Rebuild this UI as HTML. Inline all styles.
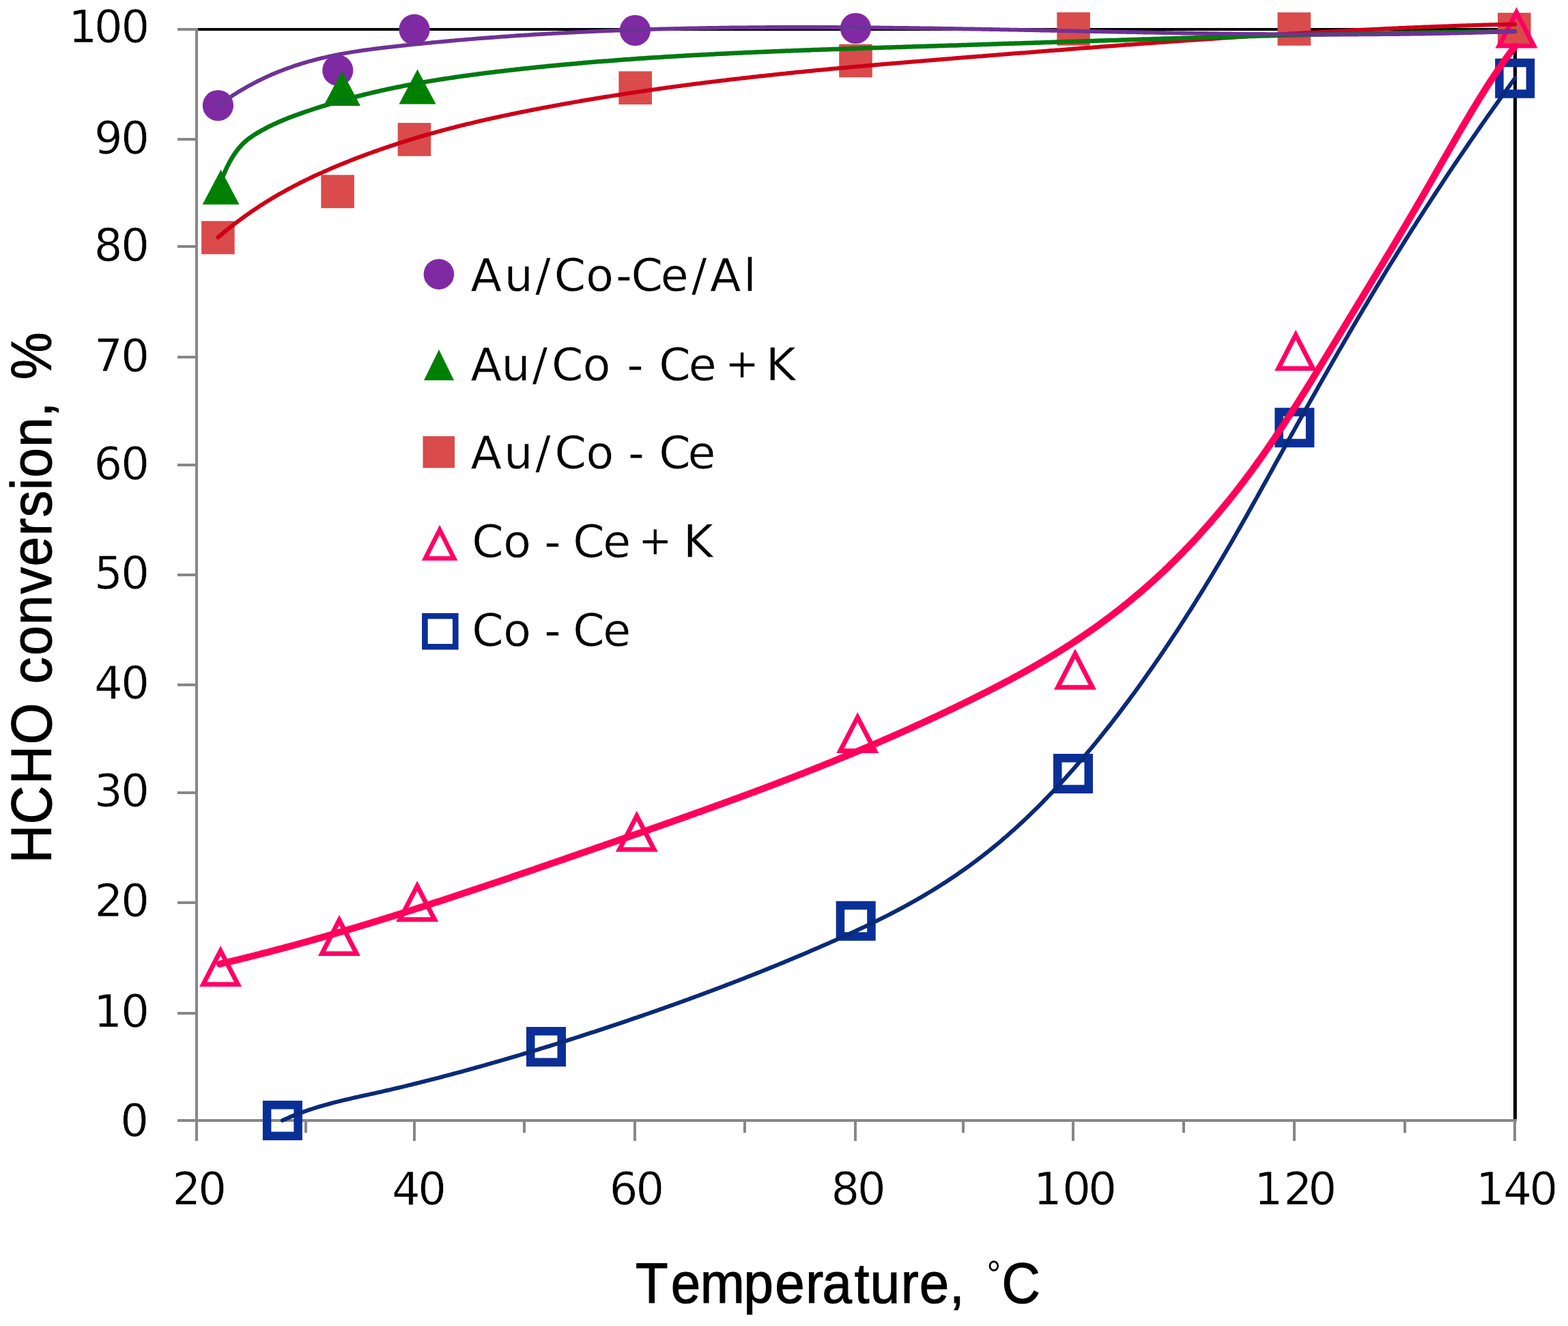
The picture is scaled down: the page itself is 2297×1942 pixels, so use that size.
<!DOCTYPE html>
<html><head><meta charset="utf-8"><title>HCHO conversion vs temperature</title>
<style>
html,body{margin:0;padding:0;background:#fff;overflow:hidden;}
svg{display:block;}
.tk{font-family:"DejaVu Sans","Liberation Sans",sans-serif;font-size:65.5px;fill:#000;stroke:#fff;stroke-width:0.6px;white-space:pre;}
.lg{font-family:"DejaVu Sans","Liberation Sans",sans-serif;font-size:66.5px;fill:#000;stroke:#fff;stroke-width:0.5px;white-space:pre;}
.ti{font-family:"Liberation Sans",Arial,sans-serif;font-size:84px;fill:#000;stroke:#000;stroke-width:1.2px;white-space:pre;}
</style></head><body>
<svg xmlns="http://www.w3.org/2000/svg" width="2297" height="1942" viewBox="0 0 2297 1942">
<rect width="2297" height="1942" fill="#fff"/>
<g id="frame" shape-rendering="crispEdges">
<rect x="288" y="40.60" width="1933.5" height="4.1" fill="#000"/>
<rect x="2217.30" y="40.60" width="4.2" height="1600.3" fill="#000"/>
<rect x="286" y="40.60" width="4" height="1602.4" fill="#878787"/>
<rect x="259.5" y="1639.0" width="1962.0" height="4" fill="#878787"/>
<rect x="259.5" y="40.65" width="28.5" height="4" fill="#878787"/>
<rect x="259.5" y="202.00" width="28.5" height="4" fill="#878787"/>
<rect x="259.5" y="359.30" width="28.5" height="4" fill="#878787"/>
<rect x="259.5" y="520.80" width="28.5" height="4" fill="#878787"/>
<rect x="259.5" y="679.00" width="28.5" height="4" fill="#878787"/>
<rect x="259.5" y="839.50" width="28.5" height="4" fill="#878787"/>
<rect x="259.5" y="1000.50" width="28.5" height="4" fill="#878787"/>
<rect x="259.5" y="1158.50" width="28.5" height="4" fill="#878787"/>
<rect x="259.5" y="1319.60" width="28.5" height="4" fill="#878787"/>
<rect x="259.5" y="1481.70" width="28.5" height="4" fill="#878787"/>
<rect x="259.5" y="1639.00" width="28.5" height="4" fill="#878787"/>
<rect x="286.0" y="1641.0" width="4" height="29.5" fill="#878787"/>
<rect x="445.5" y="1641.0" width="4" height="17.5" fill="#878787"/>
<rect x="604.8" y="1641.0" width="4" height="29.5" fill="#878787"/>
<rect x="766.3" y="1641.0" width="4" height="17.5" fill="#878787"/>
<rect x="928.0" y="1641.0" width="4" height="29.5" fill="#878787"/>
<rect x="1089.4" y="1641.0" width="4" height="17.5" fill="#878787"/>
<rect x="1251.0" y="1641.0" width="4" height="29.5" fill="#878787"/>
<rect x="1408.6" y="1641.0" width="4" height="17.5" fill="#878787"/>
<rect x="1570.2" y="1641.0" width="4" height="29.5" fill="#878787"/>
<rect x="1732.0" y="1641.0" width="4" height="17.5" fill="#878787"/>
<rect x="1894.0" y="1641.0" width="4" height="29.5" fill="#878787"/>
<rect x="2055.8" y="1641.0" width="4" height="17.5" fill="#878787"/>
<rect x="2217.4" y="1641.0" width="4" height="29.5" fill="#878787"/>
</g>
<g class="tk">
<text x="100.5 137.9 177.6" y="62.3">100</text>
<text x="138.0 177.2" y="224.5">90</text>
<text x="137.8 177.2" y="382.1">80</text>
<text x="137.9 177.2" y="543.6">70</text>
<text x="137.5 177.2" y="701.8">60</text>
<text x="138.1 177.2" y="862.3">50</text>
<text x="138.0 177.2" y="1023.3">40</text>
<text x="137.9 177.2" y="1181.3">30</text>
<text x="138.6 177.2" y="1342.4">20</text>
<text x="137.2 177.2" y="1503.5">10</text>
<text x="176.2" y="1663.5">0</text>
<text x="252.6 290.2" y="1763.5">20</text>
<text x="574.0 612.2" y="1763.5">40</text>
<text x="892.7 931.4" y="1763.5">60</text>
<text x="1217.5 1255.9" y="1763.5">80</text>
<text x="1514.1 1556.2 1594.2" y="1763.5">100</text>
<text x="1837.5 1880.6 1916.4" y="1763.5">120</text>
<text x="2162.0 2202.3 2240.4" y="1763.5">140</text>
</g>
<text class="ti" transform="translate(900.0,0) scale(0.93,1)" y="1907.8"><tspan x="33.4 88.9 135.1 203.7 253.1 301.3 327.3 378.2 403.0 451.4 480.4 528.1">Temperature,</tspan><tspan x="574.5 586.5" y="1885.2" font-size="56px" stroke-width="0"> °</tspan><tspan x="610.1" y="1907.8">C</tspan></text>
<text class="ti" transform="translate(74.6,0) rotate(-90) scale(0.93,1)" y="0" x="-1359.4 -1298.1 -1234.9 -1172.3 -1107.0 -1076.9 -1032.4 -984.1 -935.3 -891.9 -843.9 -814.4 -772.1 -752.2 -704.1 -656.8 -633.5 -597.8">HCHO conversion, %</text>
<g id="markers">
<circle cx="319.4" cy="154.5" r="22.6" fill="#7F2AA3"/>
<circle cx="494.8" cy="103" r="22.6" fill="#7F2AA3"/>
<circle cx="607" cy="43.3" r="22.6" fill="#7F2AA3"/>
<circle cx="930.4" cy="44.5" r="22.6" fill="#7F2AA3"/>
<circle cx="1253.5" cy="41.5" r="22.6" fill="#7F2AA3"/>
<polygon points="296.6,299.5 323.6,248.5 350.6,299.5" fill="#008000"/>
<polygon points="474.0,155.0 501.0,104.0 528.0,155.0" fill="#008000"/>
<polygon points="584.5,152.4 611.5,101.4 638.5,152.4" fill="#008000"/>
<rect x="295.1" y="323.7" width="48.6" height="48.6" fill="#DA4B4B"/>
<rect x="470.3" y="256.2" width="48.6" height="48.6" fill="#DA4B4B"/>
<rect x="582.7" y="180.0" width="48.6" height="48.6" fill="#DA4B4B"/>
<rect x="906.4" y="104.4" width="48.6" height="48.6" fill="#DA4B4B"/>
<rect x="1229.2" y="64.7" width="48.6" height="48.6" fill="#DA4B4B"/>
<rect x="1548.3" y="18.1" width="48.6" height="48.6" fill="#DA4B4B"/>
<rect x="1871.5" y="18.2" width="48.6" height="48.6" fill="#DA4B4B"/>
<rect x="2194.0" y="18.7" width="48.6" height="48.6" fill="#DA4B4B"/>
<path d="M323.1,1385.0 L292.1,1445.0 L354.1,1445.0 Z M323.1,1399.8 L342.9,1438.2 L303.3,1438.2 Z" fill="#FF0064" fill-rule="evenodd"/>
<path d="M497.0,1340.1 L466.0,1400.1 L528.0,1400.1 Z M497.0,1354.9 L516.8,1393.3 L477.2,1393.3 Z" fill="#FF0064" fill-rule="evenodd"/>
<path d="M611.2,1290.1 L580.2,1350.1 L642.2,1350.1 Z M611.2,1304.9 L631.0,1343.3 L591.4,1343.3 Z" fill="#FF0064" fill-rule="evenodd"/>
<path d="M932.8,1187.6 L901.8,1247.6 L963.8,1247.6 Z M932.8,1202.4 L952.6,1240.8 L913.0,1240.8 Z" fill="#FF0064" fill-rule="evenodd"/>
<path d="M1256.3,1043.0 L1225.3,1103.0 L1287.3,1103.0 Z M1256.3,1057.8 L1276.1,1096.2 L1236.5,1096.2 Z" fill="#FF0064" fill-rule="evenodd"/>
<path d="M1575.0,950.0 L1544.0,1010.0 L1606.0,1010.0 Z M1575.0,964.8 L1594.8,1003.2 L1555.2,1003.2 Z" fill="#FF0064" fill-rule="evenodd"/>
<path d="M1898.1,483.0 L1867.1,543.0 L1929.1,543.0 Z M1898.1,497.8 L1917.9,536.2 L1878.3,536.2 Z" fill="#FF0064" fill-rule="evenodd"/>
<path d="M2221.5,10.5 L2190.5,70.5 L2252.5,70.5 Z M2221.5,25.3 L2241.3,63.7 L2201.7,63.7 Z" fill="#FF0064" fill-rule="evenodd"/>
<path d="M384.9,1612.0 H442.9 V1670.0 H384.9 Z M397.4,1624.5 V1657.5 H430.4 V1624.5 Z" fill="#0A2F96" fill-rule="evenodd"/>
<path d="M771.0,1504.0 H829.0 V1562.0 H771.0 Z M783.5,1516.5 V1549.5 H816.5 V1516.5 Z" fill="#0A2F96" fill-rule="evenodd"/>
<path d="M1224.7,1319.7 H1282.7 V1377.7 H1224.7 Z M1237.2,1332.2 V1365.2 H1270.2 V1332.2 Z" fill="#0A2F96" fill-rule="evenodd"/>
<path d="M1543.0,1103.9 H1601.0 V1161.9 H1543.0 Z M1555.5,1116.4 V1149.4 H1588.5 V1116.4 Z" fill="#0A2F96" fill-rule="evenodd"/>
<path d="M1867.4,597.3 H1925.4 V655.3 H1867.4 Z M1879.9,609.8 V642.8 H1912.9 V609.8 Z" fill="#0A2F96" fill-rule="evenodd"/>
<path d="M2190.2,85.7 H2248.2 V143.7 H2190.2 Z M2202.7,98.2 V131.2 H2235.7 V98.2 Z" fill="#0A2F96" fill-rule="evenodd"/>
</g>
<g id="lines" fill="none" stroke-linecap="round" stroke-linejoin="round">
<path d="M319.4,347.6 L322.4,345.1 L325.4,342.6 L328.4,340.1 L331.4,337.6 L334.4,335.2 L337.4,332.8 L340.4,330.5 L343.4,328.1 L346.4,325.9 L349.4,323.6 L352.4,321.4 L355.4,319.2 L358.4,317.0 L361.4,314.8 L364.4,312.7 L367.4,310.6 L370.4,308.6 L373.4,306.6 L376.4,304.5 L379.4,302.6 L382.4,300.6 L385.4,298.7 L388.4,296.8 L391.4,294.9 L394.4,293.1 L397.4,291.3 L400.4,289.4 L403.4,287.7 L406.4,285.9 L409.4,284.2 L412.4,282.5 L415.4,280.8 L418.4,279.1 L421.4,277.5 L424.4,275.9 L427.4,274.3 L430.4,272.7 L433.4,271.1 L436.4,269.6 L439.4,268.0 L442.4,266.5 L445.4,265.0 L448.4,263.6 L451.4,262.1 L454.4,260.7 L457.4,259.2 L460.4,257.8 L463.4,256.4 L466.4,255.1 L469.4,253.7 L472.4,252.4 L475.4,251.0 L478.4,249.7 L481.4,248.4 L484.4,247.1 L487.4,245.8 L490.4,244.6 L493.4,243.3 L496.4,242.0 L499.4,240.8 L502.4,239.6 L505.4,238.4 L508.4,237.2 L511.4,236.0 L514.4,234.8 L517.4,233.6 L520.4,232.4 L523.4,231.3 L526.4,230.1 L529.4,229.0 L532.4,227.9 L535.4,226.8 L538.4,225.6 L541.4,224.5 L544.4,223.5 L547.4,222.4 L550.4,221.3 L553.4,220.3 L556.4,219.2 L559.4,218.2 L562.4,217.1 L565.4,216.1 L568.4,215.1 L571.4,214.1 L574.4,213.1 L577.4,212.1 L580.4,211.1 L583.4,210.1 L586.4,209.2 L589.4,208.2 L592.4,207.3 L595.4,206.3 L598.4,205.4 L601.4,204.5 L604.4,203.6 L607.4,202.6 L610.4,201.7 L613.4,200.8 L616.4,200.0 L619.4,199.1 L622.4,198.2 L625.4,197.4 L628.4,196.5 L631.4,195.6 L634.4,194.8 L637.4,194.0 L640.4,193.1 L643.4,192.3 L646.4,191.5 L649.4,190.7 L652.4,189.9 L655.4,189.1 L658.4,188.3 L661.4,187.5 L664.4,186.8 L667.4,186.0 L670.4,185.2 L673.4,184.5 L676.4,183.7 L679.4,183.0 L682.4,182.2 L685.4,181.5 L688.4,180.8 L691.4,180.1 L694.4,179.3 L697.4,178.6 L700.4,177.9 L703.4,177.2 L706.4,176.5 L709.4,175.9 L712.4,175.2 L715.4,174.5 L718.4,173.8 L721.4,173.2 L724.4,172.5 L727.4,171.8 L730.4,171.2 L733.4,170.5 L736.4,169.9 L739.4,169.2 L742.4,168.6 L745.4,168.0 L748.4,167.3 L751.4,166.7 L754.4,166.1 L757.4,165.5 L760.4,164.9 L763.4,164.3 L766.4,163.7 L769.4,163.1 L772.4,162.5 L775.4,161.9 L778.4,161.3 L781.4,160.7 L784.4,160.1 L787.4,159.5 L790.4,159.0 L793.4,158.4 L796.4,157.8 L799.4,157.3 L802.4,156.7 L805.4,156.1 L808.4,155.6 L811.4,155.0 L814.4,154.5 L817.4,153.9 L820.4,153.4 L823.4,152.8 L826.4,152.3 L829.4,151.7 L832.4,151.2 L835.4,150.7 L838.4,150.1 L841.4,149.6 L844.4,149.1 L847.4,148.6 L850.4,148.0 L853.4,147.5 L856.4,147.0 L859.4,146.5 L862.4,146.0 L865.4,145.5 L868.4,145.0 L871.4,144.5 L874.4,144.0 L877.4,143.5 L880.4,143.0 L883.4,142.5 L886.4,142.0 L889.4,141.5 L892.4,141.1 L895.4,140.6 L898.4,140.1 L901.4,139.6 L904.4,139.2 L907.4,138.7 L910.4,138.2 L913.4,137.8 L916.4,137.3 L919.4,136.8 L922.4,136.4 L925.4,135.9 L928.4,135.5 L931.4,135.0 L934.4,134.6 L937.4,134.1 L940.4,133.7 L943.4,133.2 L946.4,132.8 L949.4,132.4 L952.4,131.9 L955.4,131.5 L958.4,131.1 L961.4,130.6 L964.4,130.2 L967.4,129.8 L970.4,129.4 L973.4,129.0 L976.4,128.5 L979.4,128.1 L982.4,127.7 L985.4,127.3 L988.4,126.9 L991.4,126.5 L994.4,126.1 L997.4,125.7 L1000.4,125.3 L1003.4,124.9 L1006.4,124.5 L1009.4,124.1 L1012.4,123.7 L1015.4,123.3 L1018.4,122.9 L1021.4,122.5 L1024.4,122.2 L1027.4,121.8 L1030.4,121.4 L1033.4,121.0 L1036.4,120.6 L1039.4,120.3 L1042.4,119.9 L1045.4,119.5 L1048.4,119.2 L1051.4,118.8 L1054.4,118.4 L1057.4,118.1 L1060.4,117.7 L1063.4,117.4 L1066.4,117.0 L1069.4,116.6 L1072.4,116.3 L1075.4,115.9 L1078.4,115.6 L1081.4,115.2 L1084.4,114.9 L1087.4,114.5 L1090.4,114.2 L1093.4,113.9 L1096.4,113.5 L1099.4,113.2 L1102.4,112.8 L1105.4,112.5 L1108.4,112.2 L1111.4,111.8 L1114.4,111.5 L1117.4,111.2 L1120.4,110.9 L1123.4,110.5 L1126.4,110.2 L1129.4,109.9 L1132.4,109.6 L1135.4,109.2 L1138.4,108.9 L1141.4,108.6 L1144.4,108.3 L1147.4,108.0 L1150.4,107.7 L1153.4,107.3 L1156.4,107.0 L1159.4,106.7 L1162.4,106.4 L1165.4,106.1 L1168.4,105.8 L1171.4,105.5 L1174.4,105.2 L1177.4,104.9 L1180.4,104.6 L1183.4,104.3 L1186.4,104.0 L1189.4,103.7 L1192.4,103.4 L1195.4,103.1 L1198.4,102.8 L1201.4,102.5 L1204.4,102.3 L1207.4,102.0 L1210.4,101.7 L1213.4,101.4 L1216.4,101.1 L1219.4,100.8 L1222.4,100.5 L1225.4,100.3 L1228.4,100.0 L1231.4,99.7 L1234.4,99.4 L1237.4,99.1 L1240.4,98.9 L1243.4,98.6 L1246.4,98.3 L1249.4,98.0 L1252.4,97.8 L1255.4,97.5 L1258.4,97.2 L1261.4,97.0 L1264.4,96.7 L1267.4,96.4 L1270.4,96.1 L1273.4,95.9 L1276.4,95.6 L1279.4,95.4 L1282.4,95.1 L1285.4,94.8 L1288.4,94.6 L1291.4,94.3 L1294.4,94.0 L1297.4,93.8 L1300.4,93.5 L1303.4,93.3 L1306.4,93.0 L1309.4,92.7 L1312.4,92.5 L1315.4,92.2 L1318.4,92.0 L1321.4,91.7 L1324.4,91.5 L1327.4,91.2 L1330.4,91.0 L1333.4,90.7 L1336.4,90.5 L1339.4,90.2 L1342.4,90.0 L1345.4,89.7 L1348.4,89.5 L1351.4,89.2 L1354.4,89.0 L1357.4,88.7 L1360.4,88.5 L1363.4,88.2 L1366.4,88.0 L1369.4,87.7 L1372.4,87.5 L1375.4,87.2 L1378.4,87.0 L1381.4,86.7 L1384.4,86.5 L1387.4,86.3 L1390.4,86.0 L1393.4,85.8 L1396.4,85.5 L1399.4,85.3 L1402.4,85.0 L1405.4,84.8 L1408.4,84.6 L1411.4,84.3 L1414.4,84.1 L1417.4,83.8 L1420.4,83.6 L1423.4,83.4 L1426.4,83.1 L1429.4,82.9 L1432.4,82.6 L1435.4,82.4 L1438.4,82.2 L1441.4,81.9 L1444.4,81.7 L1447.4,81.4 L1450.4,81.2 L1453.4,81.0 L1456.4,80.7 L1459.4,80.5 L1462.4,80.2 L1465.4,80.0 L1468.4,79.8 L1471.4,79.5 L1474.4,79.3 L1477.4,79.1 L1480.4,78.8 L1483.4,78.6 L1486.4,78.3 L1489.4,78.1 L1492.4,77.9 L1495.4,77.6 L1498.4,77.4 L1501.4,77.2 L1504.4,76.9 L1507.4,76.7 L1510.4,76.4 L1513.4,76.2 L1516.4,76.0 L1519.4,75.7 L1522.4,75.5 L1525.4,75.3 L1528.4,75.0 L1531.4,74.8 L1534.4,74.6 L1537.4,74.3 L1540.4,74.1 L1543.4,73.9 L1546.4,73.6 L1549.4,73.4 L1552.4,73.2 L1555.4,72.9 L1558.4,72.7 L1561.4,72.5 L1564.4,72.2 L1567.4,72.0 L1570.4,71.8 L1573.4,71.5 L1576.4,71.3 L1579.4,71.1 L1582.4,70.8 L1585.4,70.6 L1588.4,70.4 L1591.4,70.1 L1594.4,69.9 L1597.4,69.7 L1600.4,69.5 L1603.4,69.2 L1606.4,69.0 L1609.4,68.8 L1612.4,68.5 L1615.4,68.3 L1618.4,68.1 L1621.4,67.9 L1624.4,67.6 L1627.4,67.4 L1630.4,67.2 L1633.4,67.0 L1636.4,66.7 L1639.4,66.5 L1642.4,66.3 L1645.4,66.1 L1648.4,65.8 L1651.4,65.6 L1654.4,65.4 L1657.4,65.2 L1660.4,65.0 L1663.4,64.7 L1666.4,64.5 L1669.4,64.3 L1672.4,64.1 L1675.4,63.8 L1678.4,63.6 L1681.4,63.4 L1684.4,63.2 L1687.4,63.0 L1690.4,62.8 L1693.4,62.5 L1696.4,62.3 L1699.4,62.1 L1702.4,61.9 L1705.4,61.7 L1708.4,61.5 L1711.4,61.2 L1714.4,61.0 L1717.4,60.8 L1720.4,60.6 L1723.4,60.4 L1726.4,60.2 L1729.4,60.0 L1732.4,59.8 L1735.4,59.5 L1738.4,59.3 L1741.4,59.1 L1744.4,58.9 L1747.4,58.7 L1750.4,58.5 L1753.4,58.3 L1756.4,58.1 L1759.4,57.9 L1762.4,57.7 L1765.4,57.5 L1768.4,57.3 L1771.4,57.1 L1774.4,56.9 L1777.4,56.7 L1780.4,56.5 L1783.4,56.2 L1786.4,56.0 L1789.4,55.8 L1792.4,55.6 L1795.4,55.4 L1798.4,55.2 L1801.4,55.1 L1804.4,54.9 L1807.4,54.7 L1810.4,54.5 L1813.4,54.3 L1816.4,54.1 L1819.4,53.9 L1822.4,53.7 L1825.4,53.5 L1828.4,53.3 L1831.4,53.1 L1834.4,52.9 L1837.4,52.7 L1840.4,52.5 L1843.4,52.3 L1846.4,52.2 L1849.4,52.0 L1852.4,51.8 L1855.4,51.6 L1858.4,51.4 L1861.4,51.2 L1864.4,51.0 L1867.4,50.9 L1870.4,50.7 L1873.4,50.5 L1876.4,50.3 L1879.4,50.1 L1882.4,49.9 L1885.4,49.8 L1888.4,49.6 L1891.4,49.4 L1894.4,49.2 L1897.4,49.1 L1900.4,48.9 L1903.4,48.7 L1906.4,48.5 L1909.4,48.4 L1912.4,48.2 L1915.4,48.0 L1918.4,47.8 L1921.4,47.7 L1924.4,47.5 L1927.4,47.3 L1930.4,47.2 L1933.4,47.0 L1936.4,46.8 L1939.4,46.7 L1942.4,46.5 L1945.4,46.3 L1948.4,46.2 L1951.4,46.0 L1954.4,45.8 L1957.4,45.7 L1960.4,45.5 L1963.4,45.4 L1966.4,45.2 L1969.4,45.1 L1972.4,44.9 L1975.4,44.7 L1978.4,44.6 L1981.4,44.4 L1984.4,44.3 L1987.4,44.1 L1990.4,44.0 L1993.4,43.8 L1996.4,43.7 L1999.4,43.5 L2002.4,43.4 L2005.4,43.2 L2008.4,43.1 L2011.4,42.9 L2014.4,42.8 L2017.4,42.7 L2020.4,42.5 L2023.4,42.4 L2026.4,42.2 L2029.4,42.1 L2032.4,42.0 L2035.4,41.8 L2038.4,41.7 L2041.4,41.5 L2044.4,41.4 L2047.4,41.3 L2050.4,41.1 L2053.4,41.0 L2056.4,40.9 L2059.4,40.8 L2062.4,40.6 L2065.4,40.5 L2068.4,40.4 L2071.4,40.2 L2074.4,40.1 L2077.4,40.0 L2080.4,39.9 L2083.4,39.8 L2086.4,39.6 L2089.4,39.5 L2092.4,39.4 L2095.4,39.3 L2098.4,39.2 L2101.4,39.0 L2104.4,38.9 L2107.4,38.8 L2110.4,38.7 L2113.4,38.6 L2116.4,38.5 L2119.4,38.4 L2122.4,38.3 L2125.4,38.2 L2128.4,38.1 L2131.4,38.0 L2134.4,37.8 L2137.4,37.7 L2140.4,37.6 L2143.4,37.5 L2146.4,37.4 L2149.4,37.3 L2152.4,37.2 L2155.4,37.2 L2158.4,37.1 L2161.4,37.0 L2164.4,36.9 L2167.4,36.8 L2170.4,36.7 L2173.4,36.6 L2176.4,36.5 L2179.4,36.4 L2182.4,36.3 L2185.4,36.3 L2188.4,36.2 L2191.4,36.1 L2194.4,36.0 L2197.4,35.9 L2200.4,35.9 L2203.4,35.8 L2206.4,35.7 L2209.4,35.6 L2212.4,35.6 L2215.4,35.5 L2218.4,35.4 L2219.0,35.4" stroke="#CC0018" stroke-width="6"/>
<path d="M323.6,265.8 L326.6,258.1 L329.6,251.1 L332.6,244.6 L335.6,238.7 L338.6,233.3 L341.6,228.4 L344.6,223.9 L347.6,219.8 L350.6,216.1 L353.6,212.8 L356.6,209.7 L359.6,207.0 L362.6,204.5 L365.6,202.2 L368.6,200.1 L371.6,198.1 L374.6,196.2 L377.6,194.4 L380.6,192.6 L383.6,190.9 L386.6,189.3 L389.6,187.7 L392.6,186.1 L395.6,184.6 L398.6,183.2 L401.6,181.7 L404.6,180.4 L407.6,179.0 L410.6,177.7 L413.6,176.4 L416.6,175.2 L419.6,174.0 L422.6,172.8 L425.6,171.6 L428.6,170.5 L431.6,169.4 L434.6,168.3 L437.6,167.2 L440.6,166.1 L443.6,165.1 L446.6,164.0 L449.6,163.0 L452.6,162.0 L455.6,161.0 L458.6,160.0 L461.6,159.0 L464.6,158.0 L467.6,157.1 L470.6,156.1 L473.6,155.2 L476.6,154.3 L479.6,153.4 L482.6,152.5 L485.6,151.6 L488.6,150.7 L491.6,149.8 L494.6,148.9 L497.6,148.1 L500.6,147.2 L503.6,146.4 L506.6,145.6 L509.6,144.7 L512.6,143.9 L515.6,143.1 L518.6,142.4 L521.6,141.6 L524.6,140.8 L527.6,140.0 L530.6,139.3 L533.6,138.5 L536.6,137.8 L539.6,137.1 L542.6,136.4 L545.6,135.7 L548.6,135.0 L551.6,134.3 L554.6,133.6 L557.6,132.9 L560.6,132.2 L563.6,131.6 L566.6,130.9 L569.6,130.3 L572.6,129.6 L575.6,129.0 L578.6,128.4 L581.6,127.8 L584.6,127.2 L587.6,126.6 L590.6,126.0 L593.6,125.4 L596.6,124.8 L599.6,124.2 L602.6,123.7 L605.6,123.1 L608.6,122.6 L611.6,122.0 L614.6,121.5 L617.6,121.0 L620.6,120.4 L623.6,119.9 L626.6,119.4 L629.6,118.9 L632.6,118.4 L635.6,117.9 L638.6,117.4 L641.6,116.9 L644.6,116.4 L647.6,116.0 L650.6,115.5 L653.6,115.0 L656.6,114.6 L659.6,114.1 L662.6,113.7 L665.6,113.2 L668.6,112.8 L671.6,112.4 L674.6,111.9 L677.6,111.5 L680.6,111.1 L683.6,110.7 L686.6,110.3 L689.6,109.9 L692.6,109.5 L695.6,109.1 L698.6,108.7 L701.6,108.3 L704.6,107.9 L707.6,107.5 L710.6,107.1 L713.6,106.8 L716.6,106.4 L719.6,106.0 L722.6,105.7 L725.6,105.3 L728.6,104.9 L731.6,104.6 L734.6,104.2 L737.6,103.9 L740.6,103.5 L743.6,103.2 L746.6,102.8 L749.6,102.5 L752.6,102.2 L755.6,101.8 L758.6,101.5 L761.6,101.2 L764.6,100.8 L767.6,100.5 L770.6,100.2 L773.6,99.9 L776.6,99.6 L779.6,99.2 L782.6,98.9 L785.6,98.6 L788.6,98.3 L791.6,98.0 L794.6,97.7 L797.6,97.4 L800.6,97.1 L803.6,96.8 L806.6,96.5 L809.6,96.2 L812.6,95.9 L815.6,95.6 L818.6,95.4 L821.6,95.1 L824.6,94.8 L827.6,94.5 L830.6,94.2 L833.6,94.0 L836.6,93.7 L839.6,93.4 L842.6,93.2 L845.6,92.9 L848.6,92.6 L851.6,92.4 L854.6,92.1 L857.6,91.8 L860.6,91.6 L863.6,91.3 L866.6,91.1 L869.6,90.8 L872.6,90.6 L875.6,90.3 L878.6,90.1 L881.6,89.9 L884.6,89.6 L887.6,89.4 L890.6,89.2 L893.6,88.9 L896.6,88.7 L899.6,88.5 L902.6,88.2 L905.6,88.0 L908.6,87.8 L911.6,87.6 L914.6,87.3 L917.6,87.1 L920.6,86.9 L923.6,86.7 L926.6,86.5 L929.6,86.3 L932.6,86.1 L935.6,85.8 L938.6,85.6 L941.6,85.4 L944.6,85.2 L947.6,85.0 L950.6,84.8 L953.6,84.6 L956.6,84.4 L959.6,84.2 L962.6,84.1 L965.6,83.9 L968.6,83.7 L971.6,83.5 L974.6,83.3 L977.6,83.1 L980.6,82.9 L983.6,82.7 L986.6,82.6 L989.6,82.4 L992.6,82.2 L995.6,82.0 L998.6,81.9 L1001.6,81.7 L1004.6,81.5 L1007.6,81.3 L1010.6,81.2 L1013.6,81.0 L1016.6,80.8 L1019.6,80.7 L1022.6,80.5 L1025.6,80.4 L1028.6,80.2 L1031.6,80.0 L1034.6,79.9 L1037.6,79.7 L1040.6,79.6 L1043.6,79.4 L1046.6,79.3 L1049.6,79.1 L1052.6,79.0 L1055.6,78.8 L1058.6,78.7 L1061.6,78.5 L1064.6,78.4 L1067.6,78.2 L1070.6,78.1 L1073.6,77.9 L1076.6,77.8 L1079.6,77.7 L1082.6,77.5 L1085.6,77.4 L1088.6,77.2 L1091.6,77.1 L1094.6,77.0 L1097.6,76.8 L1100.6,76.7 L1103.6,76.6 L1106.6,76.4 L1109.6,76.3 L1112.6,76.2 L1115.6,76.1 L1118.6,75.9 L1121.6,75.8 L1124.6,75.7 L1127.6,75.6 L1130.6,75.4 L1133.6,75.3 L1136.6,75.2 L1139.6,75.1 L1142.6,74.9 L1145.6,74.8 L1148.6,74.7 L1151.6,74.6 L1154.6,74.5 L1157.6,74.4 L1160.6,74.2 L1163.6,74.1 L1166.6,74.0 L1169.6,73.9 L1172.6,73.8 L1175.6,73.7 L1178.6,73.6 L1181.6,73.5 L1184.6,73.4 L1187.6,73.2 L1190.6,73.1 L1193.6,73.0 L1196.6,72.9 L1199.6,72.8 L1202.6,72.7 L1205.6,72.6 L1208.6,72.5 L1211.6,72.4 L1214.6,72.3 L1217.6,72.2 L1220.6,72.1 L1223.6,72.0 L1226.6,71.9 L1229.6,71.8 L1232.6,71.7 L1235.6,71.6 L1238.6,71.5 L1241.6,71.4 L1244.6,71.3 L1247.6,71.2 L1250.6,71.1 L1253.6,71.0 L1256.6,70.9 L1259.6,70.8 L1262.6,70.7 L1265.6,70.6 L1268.6,70.5 L1271.6,70.4 L1274.6,70.3 L1277.6,70.2 L1280.6,70.1 L1283.6,70.0 L1286.6,69.9 L1289.6,69.8 L1292.6,69.7 L1295.6,69.6 L1298.6,69.5 L1301.6,69.5 L1304.6,69.4 L1307.6,69.3 L1310.6,69.2 L1313.6,69.1 L1316.6,69.0 L1319.6,68.9 L1322.6,68.8 L1325.6,68.7 L1328.6,68.6 L1331.6,68.5 L1334.6,68.4 L1337.6,68.3 L1340.6,68.2 L1343.6,68.1 L1346.6,68.1 L1349.6,68.0 L1352.6,67.9 L1355.6,67.8 L1358.6,67.7 L1361.6,67.6 L1364.6,67.5 L1367.6,67.4 L1370.6,67.3 L1373.6,67.2 L1376.6,67.1 L1379.6,67.0 L1382.6,66.9 L1385.6,66.8 L1388.6,66.7 L1391.6,66.6 L1394.6,66.5 L1397.6,66.4 L1400.6,66.4 L1403.6,66.3 L1406.6,66.2 L1409.6,66.1 L1412.6,66.0 L1415.6,65.9 L1418.6,65.8 L1421.6,65.7 L1424.6,65.6 L1427.6,65.5 L1430.6,65.4 L1433.6,65.3 L1436.6,65.2 L1439.6,65.1 L1442.6,65.0 L1445.6,64.9 L1448.6,64.8 L1451.6,64.7 L1454.6,64.6 L1457.6,64.5 L1460.6,64.4 L1463.6,64.3 L1466.6,64.2 L1469.6,64.1 L1472.6,64.0 L1475.6,63.9 L1478.6,63.8 L1481.6,63.8 L1484.6,63.7 L1487.6,63.6 L1490.6,63.5 L1493.6,63.4 L1496.6,63.3 L1499.6,63.2 L1502.6,63.1 L1505.6,63.0 L1508.6,62.9 L1511.6,62.8 L1514.6,62.7 L1517.6,62.6 L1520.6,62.5 L1523.6,62.4 L1526.6,62.3 L1529.6,62.2 L1532.6,62.1 L1535.6,62.0 L1538.6,61.9 L1541.6,61.8 L1544.6,61.7 L1547.6,61.6 L1550.6,61.5 L1553.6,61.4 L1556.6,61.3 L1559.6,61.2 L1562.6,61.1 L1565.6,61.0 L1568.6,61.0 L1571.6,60.9 L1574.6,60.8 L1577.6,60.7 L1580.6,60.6 L1583.6,60.5 L1586.6,60.4 L1589.6,60.3 L1592.6,60.2 L1595.6,60.1 L1598.6,60.0 L1601.6,59.9 L1604.6,59.8 L1607.6,59.7 L1610.6,59.6 L1613.6,59.5 L1616.6,59.4 L1619.6,59.3 L1622.6,59.2 L1625.6,59.1 L1628.6,59.0 L1631.6,59.0 L1634.6,58.9 L1637.6,58.8 L1640.6,58.7 L1643.6,58.6 L1646.6,58.5 L1649.6,58.4 L1652.6,58.3 L1655.6,58.2 L1658.6,58.1 L1661.6,58.0 L1664.6,57.9 L1667.6,57.8 L1670.6,57.7 L1673.6,57.6 L1676.6,57.6 L1679.6,57.5 L1682.6,57.4 L1685.6,57.3 L1688.6,57.2 L1691.6,57.1 L1694.6,57.0 L1697.6,56.9 L1700.6,56.8 L1703.6,56.7 L1706.6,56.6 L1709.6,56.6 L1712.6,56.5 L1715.6,56.4 L1718.6,56.3 L1721.6,56.2 L1724.6,56.1 L1727.6,56.0 L1730.6,55.9 L1733.6,55.8 L1736.6,55.7 L1739.6,55.7 L1742.6,55.6 L1745.6,55.5 L1748.6,55.4 L1751.6,55.3 L1754.6,55.2 L1757.6,55.1 L1760.6,55.0 L1763.6,55.0 L1766.6,54.9 L1769.6,54.8 L1772.6,54.7 L1775.6,54.6 L1778.6,54.5 L1781.6,54.4 L1784.6,54.4 L1787.6,54.3 L1790.6,54.2 L1793.6,54.1 L1796.6,54.0 L1799.6,53.9 L1802.6,53.9 L1805.6,53.8 L1808.6,53.7 L1811.6,53.6 L1814.6,53.5 L1817.6,53.4 L1820.6,53.4 L1823.6,53.3 L1826.6,53.2 L1829.6,53.1 L1832.6,53.0 L1835.6,53.0 L1838.6,52.9 L1841.6,52.8 L1844.6,52.7 L1847.6,52.6 L1850.6,52.6 L1853.6,52.5 L1856.6,52.4 L1859.6,52.3 L1862.6,52.2 L1865.6,52.2 L1868.6,52.1 L1871.6,52.0 L1874.6,51.9 L1877.6,51.9 L1880.6,51.8 L1883.6,51.7 L1886.6,51.6 L1889.6,51.6 L1892.6,51.5 L1895.6,51.4 L1898.6,51.3 L1901.6,51.3 L1904.6,51.2 L1907.6,51.1 L1910.6,51.0 L1913.6,51.0 L1916.6,50.9 L1919.6,50.8 L1922.6,50.8 L1925.6,50.7 L1928.6,50.6 L1931.6,50.6 L1934.6,50.5 L1937.6,50.4 L1940.6,50.3 L1943.6,50.3 L1946.6,50.2 L1949.6,50.1 L1952.6,50.1 L1955.6,50.0 L1958.6,49.9 L1961.6,49.9 L1964.6,49.8 L1967.6,49.7 L1970.6,49.7 L1973.6,49.6 L1976.6,49.6 L1979.6,49.5 L1982.6,49.4 L1985.6,49.4 L1988.6,49.3 L1991.6,49.2 L1994.6,49.2 L1997.6,49.1 L2000.6,49.1 L2003.6,49.0 L2006.6,48.9 L2009.6,48.9 L2012.6,48.8 L2015.6,48.8 L2018.6,48.7 L2021.6,48.6 L2024.6,48.6 L2027.6,48.5 L2030.6,48.5 L2033.6,48.4 L2036.6,48.4 L2039.6,48.3 L2042.6,48.3 L2045.6,48.2 L2048.6,48.2 L2051.6,48.1 L2054.6,48.1 L2057.6,48.0 L2060.6,47.9 L2063.6,47.9 L2066.6,47.8 L2069.6,47.8 L2072.6,47.8 L2075.6,47.7 L2078.6,47.7 L2081.6,47.6 L2084.6,47.6 L2087.6,47.5 L2090.6,47.5 L2093.6,47.4 L2096.6,47.4 L2099.6,47.3 L2102.6,47.3 L2105.6,47.2 L2108.6,47.2 L2111.6,47.2 L2114.6,47.1 L2117.6,47.1 L2120.6,47.0 L2123.6,47.0 L2126.6,47.0 L2129.6,46.9 L2132.6,46.9 L2135.6,46.8 L2138.6,46.8 L2141.6,46.8 L2144.6,46.7 L2147.6,46.7 L2150.6,46.7 L2153.6,46.6 L2156.6,46.6 L2159.6,46.6 L2162.6,46.5 L2165.6,46.5 L2168.6,46.5 L2171.6,46.4 L2174.6,46.4 L2177.6,46.4 L2180.6,46.3 L2183.6,46.3 L2186.6,46.3 L2189.6,46.3 L2192.6,46.2 L2195.6,46.2 L2198.6,46.2 L2201.6,46.2 L2204.6,46.1 L2207.6,46.1 L2210.6,46.1 L2213.6,46.1 L2216.6,46.0 L2219.0,46.0" stroke="#007A10" stroke-width="6.5"/>
<path d="M319.4,154.7 L322.4,152.5 L325.4,150.4 L328.4,148.2 L331.4,146.2 L334.4,144.1 L337.4,142.1 L340.4,140.2 L343.4,138.2 L346.4,136.4 L349.4,134.5 L352.4,132.7 L355.4,130.9 L358.4,129.2 L361.4,127.5 L364.4,125.8 L367.4,124.2 L370.4,122.6 L373.4,121.0 L376.4,119.4 L379.4,117.9 L382.4,116.5 L385.4,115.0 L388.4,113.6 L391.4,112.2 L394.4,110.9 L397.4,109.5 L400.4,108.2 L403.4,107.0 L406.4,105.7 L409.4,104.5 L412.4,103.4 L415.4,102.2 L418.4,101.1 L421.4,100.0 L424.4,98.9 L427.4,97.9 L430.4,96.8 L433.4,95.8 L436.4,94.9 L439.4,93.9 L442.4,93.0 L445.4,92.1 L448.4,91.2 L451.4,90.3 L454.4,89.5 L457.4,88.7 L460.4,87.9 L463.4,87.1 L466.4,86.3 L469.4,85.6 L472.4,84.9 L475.4,84.2 L478.4,83.5 L481.4,82.8 L484.4,82.2 L487.4,81.5 L490.4,80.9 L493.4,80.3 L496.4,79.7 L499.4,79.1 L502.4,78.6 L505.4,78.0 L508.4,77.5 L511.4,77.0 L514.4,76.5 L517.4,76.0 L520.4,75.5 L523.4,75.1 L526.4,74.6 L529.4,74.2 L532.4,73.7 L535.4,73.3 L538.4,72.9 L541.4,72.5 L544.4,72.1 L547.4,71.7 L550.4,71.3 L553.4,70.9 L556.4,70.6 L559.4,70.2 L562.4,69.8 L565.4,69.5 L568.4,69.1 L571.4,68.8 L574.4,68.5 L577.4,68.1 L580.4,67.8 L583.4,67.5 L586.4,67.1 L589.4,66.8 L592.4,66.5 L595.4,66.2 L598.4,65.9 L601.4,65.5 L604.4,65.2 L607.4,64.9 L610.4,64.6 L613.4,64.3 L616.4,64.0 L619.4,63.7 L622.4,63.4 L625.4,63.1 L628.4,62.8 L631.4,62.5 L634.4,62.2 L637.4,61.9 L640.4,61.7 L643.4,61.4 L646.4,61.1 L649.4,60.8 L652.4,60.5 L655.4,60.3 L658.4,60.0 L661.4,59.7 L664.4,59.5 L667.4,59.2 L670.4,58.9 L673.4,58.7 L676.4,58.4 L679.4,58.2 L682.4,57.9 L685.4,57.7 L688.4,57.4 L691.4,57.2 L694.4,56.9 L697.4,56.7 L700.4,56.4 L703.4,56.2 L706.4,56.0 L709.4,55.7 L712.4,55.5 L715.4,55.3 L718.4,55.0 L721.4,54.8 L724.4,54.6 L727.4,54.4 L730.4,54.1 L733.4,53.9 L736.4,53.7 L739.4,53.5 L742.4,53.3 L745.4,53.1 L748.4,52.9 L751.4,52.7 L754.4,52.4 L757.4,52.2 L760.4,52.0 L763.4,51.8 L766.4,51.7 L769.4,51.5 L772.4,51.3 L775.4,51.1 L778.4,50.9 L781.4,50.7 L784.4,50.5 L787.4,50.3 L790.4,50.1 L793.4,50.0 L796.4,49.8 L799.4,49.6 L802.4,49.4 L805.4,49.3 L808.4,49.1 L811.4,48.9 L814.4,48.8 L817.4,48.6 L820.4,48.4 L823.4,48.3 L826.4,48.1 L829.4,48.0 L832.4,47.8 L835.4,47.6 L838.4,47.5 L841.4,47.3 L844.4,47.2 L847.4,47.1 L850.4,46.9 L853.4,46.8 L856.4,46.6 L859.4,46.5 L862.4,46.3 L865.4,46.2 L868.4,46.1 L871.4,45.9 L874.4,45.8 L877.4,45.7 L880.4,45.5 L883.4,45.4 L886.4,45.3 L889.4,45.2 L892.4,45.1 L895.4,44.9 L898.4,44.8 L901.4,44.7 L904.4,44.6 L907.4,44.5 L910.4,44.4 L913.4,44.2 L916.4,44.1 L919.4,44.0 L922.4,43.9 L925.4,43.8 L928.4,43.7 L931.4,43.6 L934.4,43.5 L937.4,43.4 L940.4,43.3 L943.4,43.2 L946.4,43.1 L949.4,43.0 L952.4,43.0 L955.4,42.9 L958.4,42.8 L961.4,42.7 L964.4,42.6 L967.4,42.5 L970.4,42.4 L973.4,42.4 L976.4,42.3 L979.4,42.2 L982.4,42.1 L985.4,42.1 L988.4,42.0 L991.4,41.9 L994.4,41.8 L997.4,41.8 L1000.4,41.7 L1003.4,41.6 L1006.4,41.6 L1009.4,41.5 L1012.4,41.5 L1015.4,41.4 L1018.4,41.3 L1021.4,41.3 L1024.4,41.2 L1027.4,41.2 L1030.4,41.1 L1033.4,41.1 L1036.4,41.0 L1039.4,41.0 L1042.4,40.9 L1045.4,40.9 L1048.4,40.8 L1051.4,40.8 L1054.4,40.7 L1057.4,40.7 L1060.4,40.6 L1063.4,40.6 L1066.4,40.6 L1069.4,40.5 L1072.4,40.5 L1075.4,40.4 L1078.4,40.4 L1081.4,40.4 L1084.4,40.3 L1087.4,40.3 L1090.4,40.3 L1093.4,40.3 L1096.4,40.2 L1099.4,40.2 L1102.4,40.2 L1105.4,40.2 L1108.4,40.1 L1111.4,40.1 L1114.4,40.1 L1117.4,40.1 L1120.4,40.1 L1123.4,40.0 L1126.4,40.0 L1129.4,40.0 L1132.4,40.0 L1135.4,40.0 L1138.4,40.0 L1141.4,40.0 L1144.4,39.9 L1147.4,39.9 L1150.4,39.9 L1153.4,39.9 L1156.4,39.9 L1159.4,39.9 L1162.4,39.9 L1165.4,39.9 L1168.4,39.9 L1171.4,39.9 L1174.4,39.9 L1177.4,39.9 L1180.4,39.9 L1183.4,39.9 L1186.4,39.9 L1189.4,39.9 L1192.4,39.9 L1195.4,39.9 L1198.4,39.9 L1201.4,39.9 L1204.4,39.9 L1207.4,40.0 L1210.4,40.0 L1213.4,40.0 L1216.4,40.0 L1219.4,40.0 L1222.4,40.0 L1225.4,40.0 L1228.4,40.1 L1231.4,40.1 L1234.4,40.1 L1237.4,40.1 L1240.4,40.1 L1243.4,40.1 L1246.4,40.2 L1249.4,40.2 L1252.4,40.2 L1255.4,40.2 L1258.4,40.3 L1261.4,40.3 L1264.4,40.3 L1267.4,40.3 L1270.4,40.4 L1273.4,40.4 L1276.4,40.4 L1279.4,40.4 L1282.4,40.5 L1285.4,40.5 L1288.4,40.5 L1291.4,40.6 L1294.4,40.6 L1297.4,40.6 L1300.4,40.7 L1303.4,40.7 L1306.4,40.7 L1309.4,40.8 L1312.4,40.8 L1315.4,40.8 L1318.4,40.9 L1321.4,40.9 L1324.4,40.9 L1327.4,41.0 L1330.4,41.0 L1333.4,41.1 L1336.4,41.1 L1339.4,41.1 L1342.4,41.2 L1345.4,41.2 L1348.4,41.3 L1351.4,41.3 L1354.4,41.4 L1357.4,41.4 L1360.4,41.4 L1363.4,41.5 L1366.4,41.5 L1369.4,41.6 L1372.4,41.6 L1375.4,41.7 L1378.4,41.7 L1381.4,41.8 L1384.4,41.8 L1387.4,41.9 L1390.4,41.9 L1393.4,42.0 L1396.4,42.0 L1399.4,42.1 L1402.4,42.1 L1405.4,42.2 L1408.4,42.2 L1411.4,42.3 L1414.4,42.3 L1417.4,42.4 L1420.4,42.4 L1423.4,42.5 L1426.4,42.5 L1429.4,42.6 L1432.4,42.6 L1435.4,42.7 L1438.4,42.8 L1441.4,42.8 L1444.4,42.9 L1447.4,42.9 L1450.4,43.0 L1453.4,43.0 L1456.4,43.1 L1459.4,43.1 L1462.4,43.2 L1465.4,43.3 L1468.4,43.3 L1471.4,43.4 L1474.4,43.4 L1477.4,43.5 L1480.4,43.6 L1483.4,43.6 L1486.4,43.7 L1489.4,43.7 L1492.4,43.8 L1495.4,43.8 L1498.4,43.9 L1501.4,44.0 L1504.4,44.0 L1507.4,44.1 L1510.4,44.1 L1513.4,44.2 L1516.4,44.3 L1519.4,44.3 L1522.4,44.4 L1525.4,44.5 L1528.4,44.5 L1531.4,44.6 L1534.4,44.6 L1537.4,44.7 L1540.4,44.8 L1543.4,44.8 L1546.4,44.9 L1549.4,44.9 L1552.4,45.0 L1555.4,45.1 L1558.4,45.1 L1561.4,45.2 L1564.4,45.2 L1567.4,45.3 L1570.4,45.4 L1573.4,45.4 L1576.4,45.5 L1579.4,45.6 L1582.4,45.6 L1585.4,45.7 L1588.4,45.7 L1591.4,45.8 L1594.4,45.9 L1597.4,45.9 L1600.4,46.0 L1603.4,46.0 L1606.4,46.1 L1609.4,46.2 L1612.4,46.2 L1615.4,46.3 L1618.4,46.3 L1621.4,46.4 L1624.4,46.5 L1627.4,46.5 L1630.4,46.6 L1633.4,46.6 L1636.4,46.7 L1639.4,46.8 L1642.4,46.8 L1645.4,46.9 L1648.4,46.9 L1651.4,47.0 L1654.4,47.1 L1657.4,47.1 L1660.4,47.2 L1663.4,47.2 L1666.4,47.3 L1669.4,47.3 L1672.4,47.4 L1675.4,47.5 L1678.4,47.5 L1681.4,47.6 L1684.4,47.6 L1687.4,47.7 L1690.4,47.7 L1693.4,47.8 L1696.4,47.8 L1699.4,47.9 L1702.4,48.0 L1705.4,48.0 L1708.4,48.1 L1711.4,48.1 L1714.4,48.2 L1717.4,48.2 L1720.4,48.3 L1723.4,48.3 L1726.4,48.4 L1729.4,48.4 L1732.4,48.5 L1735.4,48.5 L1738.4,48.6 L1741.4,48.6 L1744.4,48.7 L1747.4,48.7 L1750.4,48.8 L1753.4,48.8 L1756.4,48.9 L1759.4,48.9 L1762.4,48.9 L1765.4,49.0 L1768.4,49.0 L1771.4,49.1 L1774.4,49.1 L1777.4,49.2 L1780.4,49.2 L1783.4,49.2 L1786.4,49.3 L1789.4,49.3 L1792.4,49.4 L1795.4,49.4 L1798.4,49.4 L1801.4,49.5 L1804.4,49.5 L1807.4,49.6 L1810.4,49.6 L1813.4,49.6 L1816.4,49.7 L1819.4,49.7 L1822.4,49.7 L1825.4,49.8 L1828.4,49.8 L1831.4,49.8 L1834.4,49.9 L1837.4,49.9 L1840.4,49.9 L1843.4,50.0 L1846.4,50.0 L1849.4,50.0 L1852.4,50.0 L1855.4,50.1 L1858.4,50.1 L1861.4,50.1 L1864.4,50.2 L1867.4,50.2 L1870.4,50.2 L1873.4,50.2 L1876.4,50.2 L1879.4,50.3 L1882.4,50.3 L1885.4,50.3 L1888.4,50.3 L1891.4,50.3 L1894.4,50.4 L1897.4,50.4 L1900.4,50.4 L1903.4,50.4 L1906.4,50.4 L1909.4,50.4 L1912.4,50.4 L1915.4,50.5 L1918.4,50.5 L1921.4,50.5 L1924.4,50.5 L1927.4,50.5 L1930.4,50.5 L1933.4,50.5 L1936.4,50.5 L1939.4,50.5 L1942.4,50.5 L1945.4,50.5 L1948.4,50.5 L1951.4,50.5 L1954.4,50.5 L1957.4,50.5 L1960.4,50.5 L1963.4,50.5 L1966.4,50.5 L1969.4,50.5 L1972.4,50.5 L1975.4,50.5 L1978.4,50.5 L1981.4,50.5 L1984.4,50.5 L1987.4,50.5 L1990.4,50.4 L1993.4,50.4 L1996.4,50.4 L1999.4,50.4 L2002.4,50.4 L2005.4,50.4 L2008.4,50.3 L2011.4,50.3 L2014.4,50.3 L2017.4,50.3 L2020.4,50.3 L2023.4,50.2 L2026.4,50.2 L2029.4,50.2 L2032.4,50.2 L2035.4,50.1 L2038.4,50.1 L2041.4,50.1 L2044.4,50.0 L2047.4,50.0 L2050.4,50.0 L2053.4,49.9 L2056.4,49.9 L2059.4,49.9 L2062.4,49.8 L2065.4,49.8 L2068.4,49.7 L2071.4,49.7 L2074.4,49.7 L2077.4,49.6 L2080.4,49.6 L2083.4,49.5 L2086.4,49.5 L2089.4,49.4 L2092.4,49.4 L2095.4,49.3 L2098.4,49.3 L2101.4,49.2 L2104.4,49.1 L2107.4,49.1 L2110.4,49.0 L2113.4,49.0 L2116.4,48.9 L2119.4,48.8 L2122.4,48.8 L2125.4,48.7 L2128.4,48.6 L2131.4,48.6 L2134.4,48.5 L2137.4,48.4 L2140.4,48.4 L2143.4,48.3 L2146.4,48.2 L2149.4,48.1 L2152.4,48.0 L2155.4,48.0 L2158.4,47.9 L2161.4,47.8 L2164.4,47.7 L2167.4,47.6 L2170.4,47.5 L2173.4,47.5 L2176.4,47.4 L2179.4,47.3 L2182.4,47.2 L2185.4,47.1 L2188.4,47.0 L2191.4,46.9 L2194.4,46.8 L2197.4,46.7 L2200.4,46.6 L2203.4,46.5 L2206.4,46.4 L2209.4,46.3 L2212.4,46.2 L2215.4,46.0 L2218.4,45.9 L2219.0,45.9" stroke="#6E3296" stroke-width="5.8"/>
<path d="M322.0,1411.9 L325.0,1411.2 L328.0,1410.5 L331.0,1409.8 L334.0,1409.1 L337.0,1408.4 L340.0,1407.6 L343.0,1406.9 L346.0,1406.2 L349.0,1405.5 L352.0,1404.7 L355.0,1404.0 L358.0,1403.2 L361.0,1402.5 L364.0,1401.7 L367.0,1401.0 L370.0,1400.2 L373.0,1399.5 L376.0,1398.7 L379.0,1398.0 L382.0,1397.2 L385.0,1396.4 L388.0,1395.6 L391.0,1394.9 L394.0,1394.1 L397.0,1393.3 L400.0,1392.5 L403.0,1391.7 L406.0,1390.9 L409.0,1390.1 L412.0,1389.3 L415.0,1388.5 L418.0,1387.7 L421.0,1386.9 L424.0,1386.1 L427.0,1385.3 L430.0,1384.5 L433.0,1383.7 L436.0,1382.8 L439.0,1382.0 L442.0,1381.2 L445.0,1380.3 L448.0,1379.5 L451.0,1378.7 L454.0,1377.8 L457.0,1377.0 L460.0,1376.1 L463.0,1375.3 L466.0,1374.4 L469.0,1373.6 L472.0,1372.7 L475.0,1371.9 L478.0,1371.0 L481.0,1370.1 L484.0,1369.3 L487.0,1368.4 L490.0,1367.5 L493.0,1366.7 L496.0,1365.8 L499.0,1364.9 L502.0,1364.0 L505.0,1363.1 L508.0,1362.3 L511.0,1361.4 L514.0,1360.5 L517.0,1359.6 L520.0,1358.7 L523.0,1357.8 L526.0,1356.9 L529.0,1356.0 L532.0,1355.1 L535.0,1354.2 L538.0,1353.3 L541.0,1352.4 L544.0,1351.4 L547.0,1350.5 L550.0,1349.6 L553.0,1348.7 L556.0,1347.8 L559.0,1346.8 L562.0,1345.9 L565.0,1345.0 L568.0,1344.0 L571.0,1343.1 L574.0,1342.2 L577.0,1341.2 L580.0,1340.3 L583.0,1339.4 L586.0,1338.4 L589.0,1337.5 L592.0,1336.5 L595.0,1335.6 L598.0,1334.6 L601.0,1333.7 L604.0,1332.7 L607.0,1331.8 L610.0,1330.8 L613.0,1329.8 L616.0,1328.9 L619.0,1327.9 L622.0,1327.0 L625.0,1326.0 L628.0,1325.0 L631.0,1324.1 L634.0,1323.1 L637.0,1322.1 L640.0,1321.1 L643.0,1320.2 L646.0,1319.2 L649.0,1318.2 L652.0,1317.2 L655.0,1316.2 L658.0,1315.3 L661.0,1314.3 L664.0,1313.3 L667.0,1312.3 L670.0,1311.3 L673.0,1310.3 L676.0,1309.3 L679.0,1308.3 L682.0,1307.3 L685.0,1306.3 L688.0,1305.3 L691.0,1304.3 L694.0,1303.3 L697.0,1302.3 L700.0,1301.3 L703.0,1300.3 L706.0,1299.3 L709.0,1298.3 L712.0,1297.3 L715.0,1296.3 L718.0,1295.3 L721.0,1294.3 L724.0,1293.3 L727.0,1292.3 L730.0,1291.3 L733.0,1290.2 L736.0,1289.2 L739.0,1288.2 L742.0,1287.2 L745.0,1286.2 L748.0,1285.2 L751.0,1284.1 L754.0,1283.1 L757.0,1282.1 L760.0,1281.1 L763.0,1280.0 L766.0,1279.0 L769.0,1278.0 L772.0,1277.0 L775.0,1275.9 L778.0,1274.9 L781.0,1273.9 L784.0,1272.9 L787.0,1271.8 L790.0,1270.8 L793.0,1269.8 L796.0,1268.7 L799.0,1267.7 L802.0,1266.7 L805.0,1265.6 L808.0,1264.6 L811.0,1263.6 L814.0,1262.5 L817.0,1261.5 L820.0,1260.5 L823.0,1259.4 L826.0,1258.4 L829.0,1257.4 L832.0,1256.3 L835.0,1255.3 L838.0,1254.3 L841.0,1253.2 L844.0,1252.2 L847.0,1251.1 L850.0,1250.1 L853.0,1249.1 L856.0,1248.0 L859.0,1247.0 L862.0,1245.9 L865.0,1244.9 L868.0,1243.9 L871.0,1242.8 L874.0,1241.8 L877.0,1240.7 L880.0,1239.7 L883.0,1238.7 L886.0,1237.6 L889.0,1236.6 L892.0,1235.5 L895.0,1234.5 L898.0,1233.5 L901.0,1232.4 L904.0,1231.4 L907.0,1230.3 L910.0,1229.3 L913.0,1228.3 L916.0,1227.2 L919.0,1226.2 L922.0,1225.1 L925.0,1224.1 L928.0,1223.0 L931.0,1222.0 L934.0,1221.0 L937.0,1219.9 L940.0,1218.9 L943.0,1217.8 L946.0,1216.8 L949.0,1215.7 L952.0,1214.7 L955.0,1213.6 L958.0,1212.6 L961.0,1211.5 L964.0,1210.5 L967.0,1209.4 L970.0,1208.4 L973.0,1207.3 L976.0,1206.3 L979.0,1205.2 L982.0,1204.2 L985.0,1203.1 L988.0,1202.0 L991.0,1201.0 L994.0,1199.9 L997.0,1198.9 L1000.0,1197.8 L1003.0,1196.7 L1006.0,1195.7 L1009.0,1194.6 L1012.0,1193.5 L1015.0,1192.5 L1018.0,1191.4 L1021.0,1190.3 L1024.0,1189.3 L1027.0,1188.2 L1030.0,1187.1 L1033.0,1186.0 L1036.0,1185.0 L1039.0,1183.9 L1042.0,1182.8 L1045.0,1181.7 L1048.0,1180.6 L1051.0,1179.6 L1054.0,1178.5 L1057.0,1177.4 L1060.0,1176.3 L1063.0,1175.2 L1066.0,1174.1 L1069.0,1173.0 L1072.0,1171.9 L1075.0,1170.8 L1078.0,1169.7 L1081.0,1168.6 L1084.0,1167.5 L1087.0,1166.4 L1090.0,1165.3 L1093.0,1164.2 L1096.0,1163.1 L1099.0,1162.0 L1102.0,1160.9 L1105.0,1159.8 L1108.0,1158.6 L1111.0,1157.5 L1114.0,1156.4 L1117.0,1155.3 L1120.0,1154.1 L1123.0,1153.0 L1126.0,1151.9 L1129.0,1150.7 L1132.0,1149.6 L1135.0,1148.5 L1138.0,1147.3 L1141.0,1146.2 L1144.0,1145.0 L1147.0,1143.9 L1150.0,1142.7 L1153.0,1141.6 L1156.0,1140.4 L1159.0,1139.3 L1162.0,1138.1 L1165.0,1137.0 L1168.0,1135.8 L1171.0,1134.6 L1174.0,1133.5 L1177.0,1132.3 L1180.0,1131.1 L1183.0,1129.9 L1186.0,1128.8 L1189.0,1127.6 L1192.0,1126.4 L1195.0,1125.2 L1198.0,1124.0 L1201.0,1122.8 L1204.0,1121.6 L1207.0,1120.4 L1210.0,1119.2 L1213.0,1118.0 L1216.0,1116.8 L1219.0,1115.6 L1222.0,1114.4 L1225.0,1113.1 L1228.0,1111.9 L1231.0,1110.7 L1234.0,1109.5 L1237.0,1108.2 L1240.0,1107.0 L1243.0,1105.8 L1246.0,1104.5 L1249.0,1103.3 L1252.0,1102.0 L1255.0,1100.8 L1258.0,1099.5 L1261.0,1098.3 L1264.0,1097.0 L1267.0,1095.7 L1270.0,1094.5 L1273.0,1093.2 L1276.0,1091.9 L1279.0,1090.6 L1282.0,1089.4 L1285.0,1088.1 L1288.0,1086.8 L1291.0,1085.5 L1294.0,1084.2 L1297.0,1082.9 L1300.0,1081.6 L1303.0,1080.3 L1306.0,1079.0 L1309.0,1077.6 L1312.0,1076.3 L1315.0,1075.0 L1318.0,1073.7 L1321.0,1072.3 L1324.0,1071.0 L1327.0,1069.7 L1330.0,1068.3 L1333.0,1067.0 L1336.0,1065.6 L1339.0,1064.3 L1342.0,1062.9 L1345.0,1061.5 L1348.0,1060.2 L1351.0,1058.8 L1354.0,1057.4 L1357.0,1056.0 L1360.0,1054.6 L1363.0,1053.3 L1366.0,1051.9 L1369.0,1050.5 L1372.0,1049.1 L1375.0,1047.6 L1378.0,1046.2 L1381.0,1044.8 L1384.0,1043.4 L1387.0,1042.0 L1390.0,1040.5 L1393.0,1039.1 L1396.0,1037.7 L1399.0,1036.2 L1402.0,1034.8 L1405.0,1033.3 L1408.0,1031.9 L1411.0,1030.4 L1414.0,1028.9 L1417.0,1027.5 L1420.0,1026.0 L1423.0,1024.5 L1426.0,1023.0 L1429.0,1021.5 L1432.0,1020.0 L1435.0,1018.5 L1438.0,1017.0 L1441.0,1015.5 L1444.0,1014.0 L1447.0,1012.5 L1450.0,1010.9 L1453.0,1009.4 L1456.0,1007.8 L1459.0,1006.3 L1462.0,1004.7 L1465.0,1003.2 L1468.0,1001.6 L1471.0,1000.0 L1474.0,998.4 L1477.0,996.9 L1480.0,995.3 L1483.0,993.6 L1486.0,992.0 L1489.0,990.4 L1492.0,988.8 L1495.0,987.1 L1498.0,985.5 L1501.0,983.8 L1504.0,982.1 L1507.0,980.5 L1510.0,978.8 L1513.0,977.1 L1516.0,975.3 L1519.0,973.6 L1522.0,971.9 L1525.0,970.1 L1528.0,968.4 L1531.0,966.6 L1534.0,964.8 L1537.0,963.0 L1540.0,961.2 L1543.0,959.4 L1546.0,957.6 L1549.0,955.7 L1552.0,953.9 L1555.0,952.0 L1558.0,950.1 L1561.0,948.2 L1564.0,946.3 L1567.0,944.4 L1570.0,942.4 L1573.0,940.5 L1576.0,938.5 L1579.0,936.5 L1582.0,934.5 L1585.0,932.5 L1588.0,930.4 L1591.0,928.4 L1594.0,926.3 L1597.0,924.2 L1600.0,922.1 L1603.0,920.0 L1606.0,917.9 L1609.0,915.7 L1612.0,913.5 L1615.0,911.4 L1618.0,909.1 L1621.0,906.9 L1624.0,904.7 L1627.0,902.4 L1630.0,900.1 L1633.0,897.8 L1636.0,895.5 L1639.0,893.2 L1642.0,890.8 L1645.0,888.4 L1648.0,886.0 L1651.0,883.6 L1654.0,881.2 L1657.0,878.7 L1660.0,876.2 L1663.0,873.7 L1666.0,871.2 L1669.0,868.6 L1672.0,866.1 L1675.0,863.5 L1678.0,860.9 L1681.0,858.2 L1684.0,855.6 L1687.0,852.9 L1690.0,850.2 L1693.0,847.4 L1696.0,844.7 L1699.0,841.9 L1702.0,839.1 L1705.0,836.3 L1708.0,833.4 L1711.0,830.6 L1714.0,827.6 L1717.0,824.7 L1720.0,821.8 L1723.0,818.8 L1726.0,815.8 L1729.0,812.8 L1732.0,809.7 L1735.0,806.6 L1738.0,803.5 L1741.0,800.4 L1744.0,797.2 L1747.0,794.0 L1750.0,790.8 L1753.0,787.6 L1756.0,784.3 L1759.0,781.0 L1762.0,777.7 L1765.0,774.3 L1768.0,770.9 L1771.0,767.5 L1774.0,764.1 L1777.0,760.6 L1780.0,757.1 L1783.0,753.6 L1786.0,750.0 L1789.0,746.4 L1792.0,742.8 L1795.0,739.2 L1798.0,735.5 L1801.0,731.8 L1804.0,728.0 L1807.0,724.3 L1810.0,720.5 L1813.0,716.6 L1816.0,712.8 L1819.0,708.9 L1822.0,704.9 L1825.0,701.0 L1828.0,697.0 L1831.0,692.9 L1834.0,688.9 L1837.0,684.8 L1840.0,680.7 L1843.0,676.5 L1846.0,672.3 L1849.0,668.1 L1852.0,663.8 L1855.0,659.5 L1858.0,655.2 L1861.0,650.8 L1864.0,646.4 L1867.0,642.0 L1870.0,637.5 L1873.0,633.0 L1876.0,628.5 L1879.0,623.9 L1882.0,619.4 L1885.0,614.8 L1888.0,610.1 L1891.0,605.5 L1894.0,600.8 L1897.0,596.1 L1900.0,591.4 L1903.0,586.6 L1906.0,581.8 L1909.0,577.1 L1912.0,572.3 L1915.0,567.4 L1918.0,562.6 L1921.0,557.8 L1924.0,552.9 L1927.0,548.0 L1930.0,543.1 L1933.0,538.2 L1936.0,533.3 L1939.0,528.4 L1942.0,523.5 L1945.0,518.6 L1948.0,513.6 L1951.0,508.7 L1954.0,503.7 L1957.0,498.8 L1960.0,493.9 L1963.0,488.9 L1966.0,484.0 L1969.0,479.0 L1972.0,474.1 L1975.0,469.1 L1978.0,464.2 L1981.0,459.2 L1984.0,454.3 L1987.0,449.4 L1990.0,444.4 L1993.0,439.5 L1996.0,434.6 L1999.0,429.6 L2002.0,424.7 L2005.0,419.8 L2008.0,414.8 L2011.0,409.9 L2014.0,404.9 L2017.0,400.0 L2020.0,395.0 L2023.0,390.1 L2026.0,385.1 L2029.0,380.1 L2032.0,375.1 L2035.0,370.2 L2038.0,365.2 L2041.0,360.2 L2044.0,355.2 L2047.0,350.1 L2050.0,345.1 L2053.0,340.1 L2056.0,335.0 L2059.0,330.0 L2062.0,324.9 L2065.0,319.8 L2068.0,314.7 L2071.0,309.6 L2074.0,304.5 L2077.0,299.4 L2080.0,294.2 L2083.0,289.1 L2086.0,283.9 L2089.0,278.7 L2092.0,273.5 L2095.0,268.3 L2098.0,263.0 L2101.0,257.8 L2104.0,252.6 L2107.0,247.3 L2110.0,242.1 L2113.0,236.8 L2116.0,231.6 L2119.0,226.4 L2122.0,221.1 L2125.0,215.9 L2128.0,210.7 L2131.0,205.5 L2134.0,200.3 L2137.0,195.2 L2140.0,190.0 L2143.0,184.9 L2146.0,179.8 L2149.0,174.7 L2152.0,169.7 L2155.0,164.6 L2158.0,159.7 L2161.0,154.7 L2164.0,149.8 L2167.0,144.9 L2170.0,140.1 L2173.0,135.3 L2176.0,130.5 L2179.0,125.8 L2182.0,121.1 L2185.0,116.5 L2188.0,112.0 L2191.0,107.5 L2194.0,103.0 L2197.0,98.6 L2200.0,94.3 L2203.0,90.0 L2206.0,85.8 L2209.0,81.7 L2212.0,77.6 L2215.0,73.7 L2218.0,69.8 L2219.4,68.0" stroke="#FF005A" stroke-width="10"/>
<path d="M413.9,1640.9 L416.9,1639.5 L419.9,1638.2 L422.9,1636.9 L425.9,1635.6 L428.9,1634.3 L431.9,1633.1 L434.9,1632.0 L437.9,1630.8 L440.9,1629.7 L443.9,1628.6 L446.9,1627.5 L449.9,1626.5 L452.9,1625.4 L455.9,1624.5 L458.9,1623.5 L461.9,1622.5 L464.9,1621.6 L467.9,1620.7 L470.9,1619.8 L473.9,1619.0 L476.9,1618.1 L479.9,1617.3 L482.9,1616.5 L485.9,1615.7 L488.9,1614.9 L491.9,1614.1 L494.9,1613.4 L497.9,1612.6 L500.9,1611.9 L503.9,1611.2 L506.9,1610.5 L509.9,1609.8 L512.9,1609.1 L515.9,1608.4 L518.9,1607.7 L521.9,1607.0 L524.9,1606.4 L527.9,1605.7 L530.9,1605.0 L533.9,1604.4 L536.9,1603.7 L539.9,1603.1 L542.9,1602.4 L545.9,1601.7 L548.9,1601.1 L551.9,1600.4 L554.9,1599.7 L557.9,1599.1 L560.9,1598.4 L563.9,1597.7 L566.9,1597.0 L569.9,1596.3 L572.9,1595.6 L575.9,1594.9 L578.9,1594.2 L581.9,1593.5 L584.9,1592.8 L587.9,1592.1 L590.9,1591.4 L593.9,1590.7 L596.9,1589.9 L599.9,1589.2 L602.9,1588.5 L605.9,1587.7 L608.9,1587.0 L611.9,1586.2 L614.9,1585.5 L617.9,1584.7 L620.9,1584.0 L623.9,1583.2 L626.9,1582.4 L629.9,1581.7 L632.9,1580.9 L635.9,1580.1 L638.9,1579.3 L641.9,1578.6 L644.9,1577.8 L647.9,1577.0 L650.9,1576.2 L653.9,1575.4 L656.9,1574.6 L659.9,1573.8 L662.9,1573.0 L665.9,1572.2 L668.9,1571.4 L671.9,1570.6 L674.9,1569.8 L677.9,1569.0 L680.9,1568.1 L683.9,1567.3 L686.9,1566.5 L689.9,1565.7 L692.9,1564.8 L695.9,1564.0 L698.9,1563.2 L701.9,1562.3 L704.9,1561.5 L707.9,1560.6 L710.9,1559.8 L713.9,1558.9 L716.9,1558.1 L719.9,1557.2 L722.9,1556.4 L725.9,1555.5 L728.9,1554.7 L731.9,1553.8 L734.9,1552.9 L737.9,1552.1 L740.9,1551.2 L743.9,1550.3 L746.9,1549.4 L749.9,1548.5 L752.9,1547.7 L755.9,1546.8 L758.9,1545.9 L761.9,1545.0 L764.9,1544.1 L767.9,1543.2 L770.9,1542.3 L773.9,1541.4 L776.9,1540.5 L779.9,1539.6 L782.9,1538.7 L785.9,1537.8 L788.9,1536.9 L791.9,1535.9 L794.9,1535.0 L797.9,1534.1 L800.9,1533.2 L803.9,1532.3 L806.9,1531.3 L809.9,1530.4 L812.9,1529.5 L815.9,1528.5 L818.9,1527.6 L821.9,1526.7 L824.9,1525.7 L827.9,1524.8 L830.9,1523.8 L833.9,1522.9 L836.9,1521.9 L839.9,1521.0 L842.9,1520.0 L845.9,1519.0 L848.9,1518.1 L851.9,1517.1 L854.9,1516.1 L857.9,1515.2 L860.9,1514.2 L863.9,1513.2 L866.9,1512.2 L869.9,1511.3 L872.9,1510.3 L875.9,1509.3 L878.9,1508.3 L881.9,1507.3 L884.9,1506.3 L887.9,1505.3 L890.9,1504.3 L893.9,1503.3 L896.9,1502.3 L899.9,1501.3 L902.9,1500.3 L905.9,1499.3 L908.9,1498.3 L911.9,1497.3 L914.9,1496.3 L917.9,1495.3 L920.9,1494.3 L923.9,1493.2 L926.9,1492.2 L929.9,1491.2 L932.9,1490.2 L935.9,1489.1 L938.9,1488.1 L941.9,1487.1 L944.9,1486.0 L947.9,1485.0 L950.9,1484.0 L953.9,1482.9 L956.9,1481.9 L959.9,1480.8 L962.9,1479.8 L965.9,1478.7 L968.9,1477.7 L971.9,1476.6 L974.9,1475.5 L977.9,1474.5 L980.9,1473.4 L983.9,1472.3 L986.9,1471.3 L989.9,1470.2 L992.9,1469.1 L995.9,1468.0 L998.9,1467.0 L1001.9,1465.9 L1004.9,1464.8 L1007.9,1463.7 L1010.9,1462.6 L1013.9,1461.5 L1016.9,1460.4 L1019.9,1459.3 L1022.9,1458.2 L1025.9,1457.1 L1028.9,1456.0 L1031.9,1454.9 L1034.9,1453.8 L1037.9,1452.6 L1040.9,1451.5 L1043.9,1450.4 L1046.9,1449.3 L1049.9,1448.1 L1052.9,1447.0 L1055.9,1445.9 L1058.9,1444.7 L1061.9,1443.6 L1064.9,1442.4 L1067.9,1441.3 L1070.9,1440.1 L1073.9,1439.0 L1076.9,1437.8 L1079.9,1436.7 L1082.9,1435.5 L1085.9,1434.3 L1088.9,1433.2 L1091.9,1432.0 L1094.9,1430.8 L1097.9,1429.6 L1100.9,1428.5 L1103.9,1427.3 L1106.9,1426.1 L1109.9,1424.9 L1112.9,1423.7 L1115.9,1422.5 L1118.9,1421.3 L1121.9,1420.1 L1124.9,1418.9 L1127.9,1417.6 L1130.9,1416.4 L1133.9,1415.2 L1136.9,1414.0 L1139.9,1412.8 L1142.9,1411.5 L1145.9,1410.3 L1148.9,1409.1 L1151.9,1407.8 L1154.9,1406.6 L1157.9,1405.3 L1160.9,1404.1 L1163.9,1402.8 L1166.9,1401.5 L1169.9,1400.3 L1172.9,1399.0 L1175.9,1397.7 L1178.9,1396.5 L1181.9,1395.2 L1184.9,1393.9 L1187.9,1392.6 L1190.9,1391.3 L1193.9,1390.0 L1196.9,1388.7 L1199.9,1387.4 L1202.9,1386.1 L1205.9,1384.8 L1208.9,1383.5 L1211.9,1382.2 L1214.9,1380.9 L1217.9,1379.5 L1220.9,1378.2 L1223.9,1376.9 L1226.9,1375.5 L1229.9,1374.2 L1232.9,1372.8 L1235.9,1371.5 L1238.9,1370.1 L1241.9,1368.8 L1244.9,1367.4 L1247.9,1366.0 L1250.9,1364.6 L1253.9,1363.2 L1256.9,1361.8 L1259.9,1360.4 L1262.9,1359.0 L1265.9,1357.6 L1268.9,1356.2 L1271.9,1354.7 L1274.9,1353.3 L1277.9,1351.8 L1280.9,1350.4 L1283.9,1348.9 L1286.9,1347.4 L1289.9,1345.9 L1292.9,1344.4 L1295.9,1342.9 L1298.9,1341.4 L1301.9,1339.9 L1304.9,1338.3 L1307.9,1336.8 L1310.9,1335.2 L1313.9,1333.6 L1316.9,1332.0 L1319.9,1330.4 L1322.9,1328.8 L1325.9,1327.2 L1328.9,1325.5 L1331.9,1323.9 L1334.9,1322.2 L1337.9,1320.5 L1340.9,1318.8 L1343.9,1317.1 L1346.9,1315.4 L1349.9,1313.7 L1352.9,1311.9 L1355.9,1310.1 L1358.9,1308.3 L1361.9,1306.5 L1364.9,1304.7 L1367.9,1302.9 L1370.9,1301.0 L1373.9,1299.1 L1376.9,1297.3 L1379.9,1295.3 L1382.9,1293.4 L1385.9,1291.5 L1388.9,1289.5 L1391.9,1287.5 L1394.9,1285.5 L1397.9,1283.5 L1400.9,1281.5 L1403.9,1279.4 L1406.9,1277.3 L1409.9,1275.2 L1412.9,1273.1 L1415.9,1271.0 L1418.9,1268.8 L1421.9,1266.6 L1424.9,1264.4 L1427.9,1262.2 L1430.9,1260.0 L1433.9,1257.7 L1436.9,1255.4 L1439.9,1253.1 L1442.9,1250.7 L1445.9,1248.4 L1448.9,1246.0 L1451.9,1243.6 L1454.9,1241.1 L1457.9,1238.7 L1460.9,1236.2 L1463.9,1233.7 L1466.9,1231.2 L1469.9,1228.6 L1472.9,1226.0 L1475.9,1223.4 L1478.9,1220.8 L1481.9,1218.1 L1484.9,1215.4 L1487.9,1212.7 L1490.9,1210.0 L1493.9,1207.2 L1496.9,1204.5 L1499.9,1201.7 L1502.9,1198.8 L1505.9,1196.0 L1508.9,1193.1 L1511.9,1190.2 L1514.9,1187.2 L1517.9,1184.3 L1520.9,1181.3 L1523.9,1178.3 L1526.9,1175.3 L1529.9,1172.2 L1532.9,1169.1 L1535.9,1166.0 L1538.9,1162.9 L1541.9,1159.8 L1544.9,1156.6 L1547.9,1153.4 L1550.9,1150.2 L1553.9,1146.9 L1556.9,1143.7 L1559.9,1140.4 L1562.9,1137.0 L1565.9,1133.7 L1568.9,1130.3 L1571.9,1126.9 L1574.9,1123.5 L1577.9,1120.1 L1580.9,1116.6 L1583.9,1113.1 L1586.9,1109.6 L1589.9,1106.1 L1592.9,1102.5 L1595.9,1098.9 L1598.9,1095.3 L1601.9,1091.7 L1604.9,1088.1 L1607.9,1084.4 L1610.9,1080.7 L1613.9,1076.9 L1616.9,1073.2 L1619.9,1069.4 L1622.9,1065.6 L1625.9,1061.8 L1628.9,1058.0 L1631.9,1054.1 L1634.9,1050.2 L1637.9,1046.3 L1640.9,1042.4 L1643.9,1038.4 L1646.9,1034.4 L1649.9,1030.4 L1652.9,1026.4 L1655.9,1022.3 L1658.9,1018.3 L1661.9,1014.2 L1664.9,1010.0 L1667.9,1005.9 L1670.9,1001.7 L1673.9,997.5 L1676.9,993.3 L1679.9,989.1 L1682.9,984.8 L1685.9,980.5 L1688.9,976.2 L1691.9,971.9 L1694.9,967.5 L1697.9,963.2 L1700.9,958.8 L1703.9,954.4 L1706.9,949.9 L1709.9,945.4 L1712.9,941.0 L1715.9,936.4 L1718.9,931.9 L1721.9,927.4 L1724.9,922.8 L1727.9,918.2 L1730.9,913.5 L1733.9,908.9 L1736.9,904.2 L1739.9,899.5 L1742.9,894.8 L1745.9,890.1 L1748.9,885.3 L1751.9,880.5 L1754.9,875.7 L1757.9,870.9 L1760.9,866.1 L1763.9,861.2 L1766.9,856.3 L1769.9,851.4 L1772.9,846.5 L1775.9,841.5 L1778.9,836.5 L1781.9,831.5 L1784.9,826.5 L1787.9,821.4 L1790.9,816.4 L1793.9,811.3 L1796.9,806.2 L1799.9,801.0 L1802.9,795.9 L1805.9,790.7 L1808.9,785.5 L1811.9,780.3 L1814.9,775.0 L1817.9,769.8 L1820.9,764.5 L1823.9,759.2 L1826.9,753.9 L1829.9,748.6 L1832.9,743.2 L1835.9,737.8 L1838.9,732.5 L1841.9,727.1 L1844.9,721.7 L1847.9,716.3 L1850.9,710.9 L1853.9,705.5 L1856.9,700.1 L1859.9,694.6 L1862.9,689.2 L1865.9,683.8 L1868.9,678.3 L1871.9,672.9 L1874.9,667.5 L1877.9,662.1 L1880.9,656.6 L1883.9,651.2 L1886.9,645.8 L1889.9,640.4 L1892.9,635.0 L1895.9,629.6 L1898.9,624.3 L1901.9,618.9 L1904.9,613.5 L1907.9,608.2 L1910.9,602.8 L1913.9,597.5 L1916.9,592.1 L1919.9,586.8 L1922.9,581.5 L1925.9,576.2 L1928.9,570.9 L1931.9,565.6 L1934.9,560.3 L1937.9,555.0 L1940.9,549.7 L1943.9,544.5 L1946.9,539.2 L1949.9,534.0 L1952.9,528.7 L1955.9,523.5 L1958.9,518.3 L1961.9,513.1 L1964.9,507.9 L1967.9,502.8 L1970.9,497.6 L1973.9,492.4 L1976.9,487.3 L1979.9,482.2 L1982.9,477.0 L1985.9,471.9 L1988.9,466.8 L1991.9,461.7 L1994.9,456.7 L1997.9,451.6 L2000.9,446.6 L2003.9,441.5 L2006.9,436.5 L2009.9,431.5 L2012.9,426.5 L2015.9,421.5 L2018.9,416.5 L2021.9,411.6 L2024.9,406.6 L2027.9,401.7 L2030.9,396.8 L2033.9,391.9 L2036.9,387.0 L2039.9,382.1 L2042.9,377.3 L2045.9,372.4 L2048.9,367.6 L2051.9,362.8 L2054.9,358.0 L2057.9,353.2 L2060.9,348.4 L2063.9,343.7 L2066.9,338.9 L2069.9,334.2 L2072.9,329.5 L2075.9,324.7 L2078.9,320.1 L2081.9,315.4 L2084.9,310.7 L2087.9,306.0 L2090.9,301.4 L2093.9,296.8 L2096.9,292.2 L2099.9,287.6 L2102.9,283.0 L2105.9,278.4 L2108.9,273.8 L2111.9,269.3 L2114.9,264.7 L2117.9,260.2 L2120.9,255.7 L2123.9,251.2 L2126.9,246.7 L2129.9,242.2 L2132.9,237.8 L2135.9,233.3 L2138.9,228.9 L2141.9,224.5 L2144.9,220.1 L2147.9,215.7 L2150.9,211.3 L2153.9,206.9 L2156.9,202.6 L2159.9,198.2 L2162.9,193.9 L2165.9,189.6 L2168.9,185.2 L2171.9,180.9 L2174.9,176.7 L2177.9,172.4 L2180.9,168.1 L2183.9,163.9 L2186.9,159.6 L2189.9,155.4 L2192.9,151.2 L2195.9,147.0 L2198.9,142.8 L2201.9,138.6 L2204.9,134.5 L2207.9,130.3 L2210.9,126.2 L2213.9,122.0 L2216.9,117.9 L2219.4,114.5" stroke="#0A2A78" stroke-width="6"/>
</g>
<g id="legend">
<circle cx="642.9" cy="401.6" r="22.3" fill="#7F2AA3"/>
<polygon points="621.0,557.0 643.0,512.0 665.0,557.0" fill="#008000"/>
<rect x="619.5" y="638.8" width="46.5" height="46.5" fill="#DA4B4B"/>
<path d="M644.1,768.8 L617.8,821.1 L670.4,821.1 Z M644.1,783.3 L659.9,814.6 L628.3,814.6 Z" fill="#FF0064" fill-rule="evenodd"/>
<path d="M618.1,898.0 H671.6 V951.5 H618.1 Z M626.7,906.6 V942.9 H663.0 V906.6 Z" fill="#0A2F96" fill-rule="evenodd"/>
<text class="lg" x="689.4 738.7 784.2 811.7 858.3 902.0 924.5 967.8 1013.0 1039.9 1089.2" y="426.4">Au/Co-Ce/Al</text>
<text class="lg" y="556.6"><tspan x="689.6 734.6 779.7 808.0 853.7 894.4 918.4 942.3 965.2 1008.7 1049.6">Au/Co - Ce </tspan><tspan x="1062.5" y="552.6" font-size="59px">+</tspan><tspan x="1115.1 1122.0" y="556.6"> K</tspan></text>
<text class="lg" x="689.4 738.2 784.3 812.5 858.5 899.2 920.1 944.0 965.3 1007.5" y="686.1">Au/Co - Ce</text>
<text class="lg" y="816.1"><tspan x="691.2 737.2 777.9 797.4 821.4 839.3 883.3 924.2">Co - Ce </tspan><tspan x="935.1" y="812.1" font-size="59px">+</tspan><tspan x="987.7 1001.1" y="816.1"> K</tspan></text>
<text class="lg" x="691.2 737.2 777.9 797.4 821.4 839.3 883.3" y="946.1">Co - Ce</text>
</g>
</svg></body></html>
